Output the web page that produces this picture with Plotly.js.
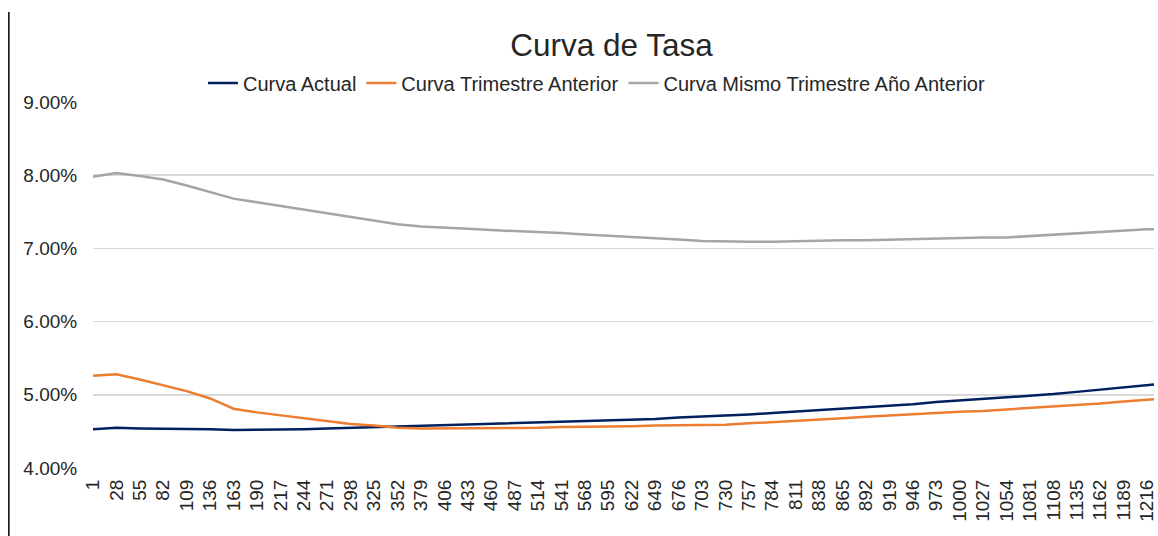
<!DOCTYPE html>
<html>
<head>
<meta charset="utf-8">
<script src="https://cdn.plot.ly/plotly-3.0.1.min.js"></script>
<style>
html,body{margin:0;padding:0;background:#fff;}
#chart{width:1158px;height:536px;}
</style>
</head>
<body>
<div id="chart"></div>
<script>
// Day categories (every 27th labelled) plus final point
const days = [1,28,55,82,109,136,163,190,217,244,271,298,325,352,379,406,433,460,487,514,541,568,595,622,649,676,703,730,757,784,811,838,865,892,919,946,973,1000,1027,1054,1081,1108,1135,1162,1189,1216,1224];
const tickLabels = [1,28,55,82,109,136,163,190,217,244,271,298,325,352,379,406,433,460,487,514,541,568,595,622,649,676,703,730,757,784,811,838,865,892,919,946,973,1000,1027,1054,1081,1108,1135,1162,1189,1216];

// Rates in percent
const curvaActual = [4.53,4.55,4.54,4.54,4.53,4.53,4.52,4.52,4.53,4.53,4.54,4.55,4.56,4.56,4.57,4.58,4.59,4.60,4.61,4.62,4.63,4.64,4.65,4.66,4.67,4.69,4.70,4.71,4.73,4.75,4.77,4.79,4.81,4.83,4.85,4.87,4.90,4.92,4.94,4.96,4.99,5.01,5.04,5.07,5.10,5.13,5.14];
const curvaTrimAnterior = [5.26,5.28,5.21,5.13,5.05,4.95,4.81,4.76,4.72,4.67,4.63,4.60,4.58,4.55,4.54,4.54,4.54,4.54,4.55,4.55,4.56,4.56,4.57,4.57,4.58,4.58,4.58,4.59,4.61,4.63,4.64,4.66,4.68,4.70,4.72,4.73,4.75,4.77,4.78,4.80,4.82,4.84,4.86,4.88,4.91,4.93,4.94];
const curvaMismoTrimAnioAnt = [7.98,8.03,7.99,7.94,7.86,7.77,7.68,7.63,7.58,7.53,7.49,7.44,7.39,7.33,7.30,7.29,7.27,7.25,7.24,7.22,7.21,7.19,7.17,7.16,7.14,7.12,7.10,7.09,7.09,7.09,7.10,7.10,7.11,7.11,7.12,7.13,7.13,7.14,7.15,7.15,7.17,7.18,7.20,7.22,7.24,7.26,7.26];

const seriesNames = ['Curva Actual','Curva Trimestre Anterior','Curva Mismo Trimestre Año Anterior'];
const seriesColors = ['#002060','#ED7D31','#A5A5A5'];
const seriesData = [curvaActual, curvaTrimAnterior, curvaMismoTrimAnioAnt];

const traces = seriesData.map((ys, i) => ({
  type: 'scatter', mode: 'lines', x: days, y: ys, name: seriesNames[i],
  line: {color: seriesColors[i], width: 2.5}, hoverinfo: 'x+y'
}));

const font = {family: '"Liberation Sans", Arial, sans-serif', color: '#262626'};

const layout = {
  width: 1158, height: 536,
  margin: {l: 93, r: 4, t: 102, b: 68},
  paper_bgcolor: '#fff', plot_bgcolor: '#fff',
  font: Object.assign({size: 19}, font),
  title: {text: 'Curva de Tasa', x: 0.528, xanchor: 'center', y: 0.916, yanchor: 'middle', yref: 'container',
          font: Object.assign({size: 31.5}, font)},
  showlegend: true,
  legend: {orientation: 'h', x: 0.475, xanchor: 'center', y: 1.052, yanchor: 'middle',
           font: Object.assign({size: 20}, font), bgcolor: 'rgba(0,0,0,0)', itemwidth: 30, tracegroupgap: 0},
  xaxis: {range: [1, 1224], tickmode: 'array', tickvals: tickLabels, ticktext: tickLabels.map(String),
          tickangle: -90, showgrid: false, zeroline: false, showline: false,
          ticks: 'outside', ticklen: 3, tickcolor: 'rgba(0,0,0,0)', ticklabeloverflow: 'allow',
          tickfont: Object.assign({size: 19}, font), fixedrange: true},
  yaxis: {range: [4, 9], dtick: 1, tick0: 4, tickformat: '.2f', ticksuffix: '%',
          showgrid: true, gridcolor: '#d9d9d9', gridwidth: 1.5, zeroline: false, showline: false,
          ticks: 'outside', ticklen: 11, tickcolor: 'rgba(0,0,0,0)',
          tickfont: Object.assign({size: 19}, font), fixedrange: true},
  shapes: [{type: 'line', xref: 'paper', yref: 'paper', x0: -0.0793, x1: -0.0793, y0: 1.246, y1: -0.19,
            line: {color: '#000', width: 1.5}}]
};

Plotly.newPlot('chart', traces, layout, {displayModeBar: false, staticPlot: true});
</script>
</body>
</html>
